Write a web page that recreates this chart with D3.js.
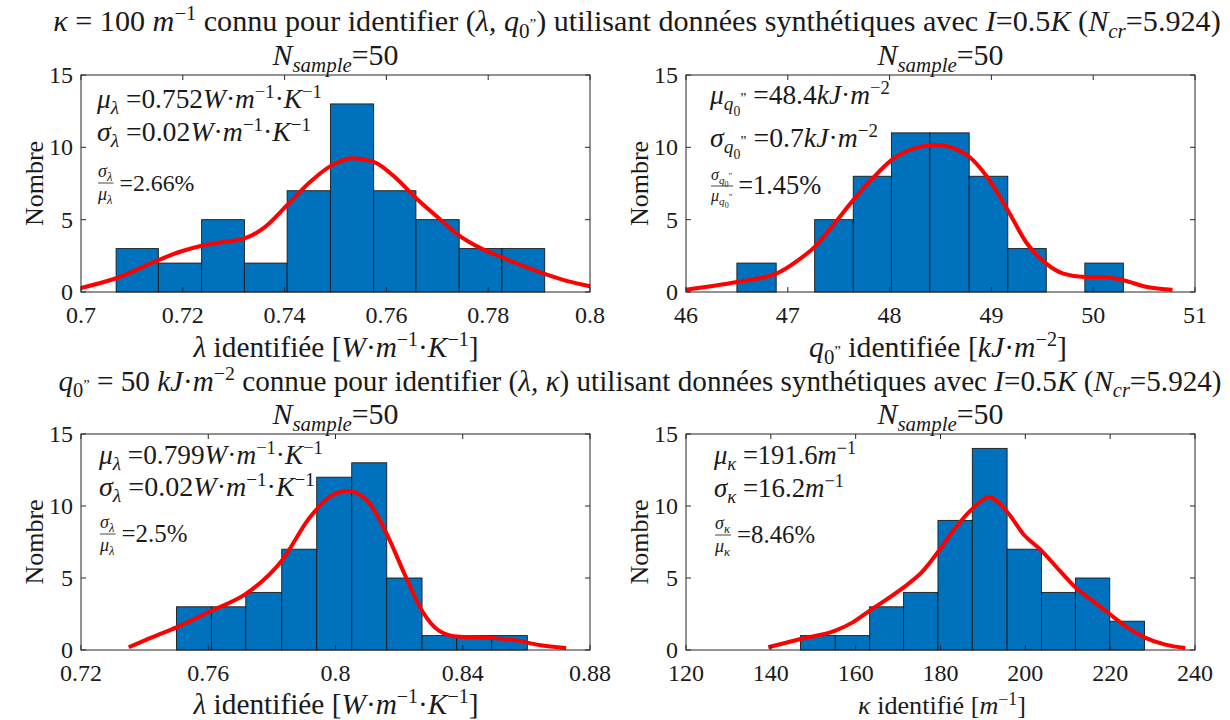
<!DOCTYPE html>
<html><head><meta charset="utf-8">
<script src="https://cdn.jsdelivr.net/npm/d3@7"></script>
<style>body{margin:0;background:#fff}svg text{font-family:"Liberation Serif","DejaVu Serif",serif;fill:#1a1a1a}</style>
</head><body><svg id="c" width="1230" height="720" font-family="Liberation Serif, DejaVu Serif, serif"></svg>
<script>
// ---------- DATA ----------
const yTicks = [0, 5, 10, 15];

const p1Edges  = [0.7069,0.7152,0.7237,0.7321,0.7405,0.7490,0.7575,0.7658,0.7743,0.7827,0.7911];
const p1Counts = [3,2,5,2,7,13,7,5,3,3];
const p1CurveX = [0.700,0.7069,0.7152,0.7196,0.7237,0.728,0.7321,0.7358,0.7405,0.745,0.749,0.7534,0.7575,0.7618,0.7658,0.7703,0.7743,0.7787,0.7827,0.7872,0.7911,0.7956,0.800];
const p1CurveY = [0.28,0.95,2.2,2.8,3.2,3.45,3.7,4.4,6.0,7.6,8.7,9.25,9.0,7.9,6.5,5.1,3.9,3.0,2.4,1.75,1.25,0.75,0.4];
const p1Ticks  = [0.7,0.72,0.74,0.76,0.78,0.8];
const p1Labels = ["0.7","0.72","0.74","0.76","0.78","0.8"];

const p2Edges  = [46.5,46.886,47.264,47.643,48.018,48.396,48.782,49.161,49.539,49.918,50.296];
const p2Counts = [2,0,5,8,11,11,8,3,0,2];
const p2CurveX = [46.0,46.5,46.886,47.1,47.264,47.457,47.643,47.832,48.018,48.243,48.457,48.671,48.782,48.957,49.161,49.35,49.539,49.707,49.918,50.1,50.296,50.529,50.779];
const p2CurveY = [0.16,0.69,1.27,2.19,3.12,4.73,6.35,7.85,9.12,9.93,10.16,9.81,9.35,7.97,5.65,3.35,1.96,1.27,1.04,1.04,0.81,0.35,0.16];
const p2Ticks  = [46,47,48,49,50,51];
const p2Labels = ["46","47","48","49","50","51"];

const p3Edges  = [0.7500,0.7610,0.7718,0.7831,0.7941,0.8051,0.8161,0.8272,0.8381,0.8491,0.8603];
const p3Counts = [3,3,4,7,12,13,5,1,1,1];
const p3CurveX = [0.735,0.7423,0.750,0.761,0.7718,0.7831,0.7919,0.7986,0.8037,0.8099,0.8161,0.8217,0.8272,0.8325,0.8381,0.8491,0.8572,0.864,0.8725];
const p3CurveY = [0.19,0.88,1.57,2.73,3.89,6.2,9.2,10.7,11.05,10.4,8.06,5.28,2.73,1.34,0.93,0.83,0.65,0.35,0.14];
const p3Ticks  = [0.72,0.76,0.8,0.84,0.88];
const p3Labels = ["0.72","0.76","0.8","0.84","0.88"];

const p4Edges  = [147.0,155.2,163.3,171.3,179.4,187.5,195.7,203.8,211.8,219.9,228.1];
const p4Counts = [1,1,3,4,9,14,7,4,5,2];
const p4CurveX = [139.4,147,155.2,159.3,163.3,171.3,175.6,179.4,183.3,187.5,191.4,195.7,199.5,203.8,208.1,211.8,215.8,219.9,224,228.1,233,237.7];
const p4CurveY = [0.19,0.76,1.34,1.92,2.73,4.35,5.4,6.8,8.4,9.8,10.6,9.6,8.06,6.9,5.51,4.35,3.43,2.5,1.57,0.88,0.37,0.14];
const p4Ticks  = [120,140,160,180,200,220,240];
const p4Labels = ["120","140","160","180","200","220","240"];

// ---------- HELPERS ----------
const svg = d3.select("#c");
const FS = 24;
const FONT = "Liberation Serif, DejaVu Serif, serif";

function richRaw(g, x, y, parts, size, anchor) {
  const t = g.append("text").attr("x", x).attr("y", y).attr("font-family", FONT)
    .attr("font-size", size).attr("text-anchor", anchor || "start");
  let cur = 0;
  parts.forEach(([s, st]) => {
    st = st || "";
    let shift = 0, fs = size;
    if (st.includes("b")) { shift = size * 0.22; fs = size * 0.7; }
    if (st.includes("p")) { shift = -size * 0.36; fs = size * 0.68; }
    if (st.includes("B")) { shift = size * 0.42; fs = size * 0.5; }
    if (st.includes("P")) { shift = -size * 0.05; fs = size * 0.5; }
    const ts = t.append("tspan").text(s).attr("dy", shift - cur).attr("font-size", fs);
    if (st.includes("i")) ts.attr("font-style", "italic");
    cur = shift;
  });
  return t;
}
// render, optionally scaling the font so the text spans targetW pixels
function rich(g, x, y, parts, size, anchor, targetW) {
  let t = richRaw(g, x, y, parts, size, anchor);
  if (targetW) {
    const w = t.node().getComputedTextLength();
    if (w > 0) {
      t.remove();
      t = richRaw(g, x, y, parts, size * targetW / w, anchor);
    }
  }
  return t;
}

function frac(g, x, yAxis, num, den, size) {
  const n = richRaw(g, x, yAxis - 6, num, size);
  const d = richRaw(g, x, yAxis + size * 0.95, den, size);
  const w = Math.max(n.node().getComputedTextLength(), d.node().getComputedTextLength());
  g.append("line").attr("x1", x).attr("x2", x + w + 1).attr("y1", yAxis).attr("y2", yAxis)
    .attr("stroke", "#1a1a1a").attr("stroke-width", 0.8);
  return x + w + 1;
}

function panel(box, xDom, edges, counts, cx, cy, ticks, labels) {
  const x = d3.scaleLinear().domain(xDom).range([box.x0, box.x1]);
  const y = d3.scaleLinear().domain([0, 15]).range([box.y1, box.y0]);
  const g = svg.append("g");
  const bins = counts.map((c, i) => ({ a: edges[i], b: edges[i + 1], c }));
  g.selectAll("rect").data(bins.filter(d => d.c > 0)).join("rect")
    .attr("x", d => x(d.a)).attr("width", d => x(d.b) - x(d.a))
    .attr("y", d => y(d.c)).attr("height", d => y(0) - y(d.c))
    .attr("fill", "#0072BD").attr("stroke", "#1a1a1a").attr("stroke-width", 0.9);
  const pts = cx.map((v, i) => [v, cy[i]]);
  g.append("path").datum(pts)
    .attr("d", d3.line().x(d => x(d[0])).y(d => y(d[1])).curve(d3.curveMonotoneX))
    .attr("fill", "none").attr("stroke", "#ff0000").attr("stroke-width", 4)
    .attr("stroke-linejoin", "round");
  const tl = 5;
  const ax = g.append("g").attr("stroke", "#262626").attr("stroke-width", 1);
  ax.append("rect").attr("x", box.x0).attr("y", box.y0).attr("width", box.x1 - box.x0)
    .attr("height", box.y1 - box.y0).attr("fill", "none");
  ticks.forEach(t => {
    ax.append("line").attr("x1", x(t)).attr("x2", x(t)).attr("y1", box.y1).attr("y2", box.y1 - tl);
    ax.append("line").attr("x1", x(t)).attr("x2", x(t)).attr("y1", box.y0).attr("y2", box.y0 + tl);
  });
  yTicks.forEach(t => {
    ax.append("line").attr("x1", box.x0).attr("x2", box.x0 + tl).attr("y1", y(t)).attr("y2", y(t));
    ax.append("line").attr("x1", box.x1).attr("x2", box.x1 - tl).attr("y1", y(t)).attr("y2", y(t));
  });
  ticks.forEach((t, i) => {
    g.append("text").attr("x", x(t)).attr("y", box.y1 + 31).attr("text-anchor", "middle")
      .attr("font-family", FONT).attr("font-size", FS).text(labels[i]);
  });
  yTicks.forEach(t => {
    g.append("text").attr("x", box.x0 - 8).attr("y", y(t) + 8).attr("text-anchor", "end")
      .attr("font-family", FONT).attr("font-size", FS).text(String(t));
  });
  g.append("text").attr("transform", `translate(${box.x0 - 38},${(box.y0 + box.y1) / 2}) rotate(-90)`)
    .attr("text-anchor", "middle").attr("font-family", FONT).attr("font-size", 26).text("Nombre");
  rich(g, (box.x0 + box.x1) / 2, box.y0 - 10, [["N", "i"], ["sample", "ib"], ["=50", ""]], 24, "middle", 126);
  return g;
}

// ---------- LAYOUT ----------
const B1 = { x0: 81, x1: 590, y0: 75, y1: 292 };
const B2 = { x0: 686, x1: 1195, y0: 75, y1: 292 };
const B3 = { x0: 81, x1: 590, y0: 434, y1: 650 };
const B4 = { x0: 686, x1: 1195, y0: 434, y1: 650 };

// Titles
rich(svg, 637, 31, [["κ", "i"], [" = 100 ", ""], ["m", "i"], ["−1", "p"], [" connu pour identifier (", ""], ["λ, q", "i"], ["0", "b"], ["\u201D", "P"], [") utilisant données synthétiques avec ", ""], ["I", "i"], ["=0.5", ""], ["K", "i"], [" (", ""], ["N", "i"], ["cr", "ib"], ["=5.924)", ""]], 23, "middle", 1168);
rich(svg, 640, 391, [["q", "i"], ["0", "b"], ["\u201D", "P"], [" = 50 ", ""], ["kJ", "i"], ["·", ""], ["m", "i"], ["−2", "p"], [" connue pour identifier (", ""], ["λ, κ", "i"], [") utilisant données synthétiques avec ", ""], ["I", "i"], ["=0.5", ""], ["K", "i"], [" (", ""], ["N", "i"], ["cr", "ib"], ["=5.924)", ""]], 23, "middle", 1164);

// Panels
const g1 = panel(B1, [0.7, 0.8], p1Edges, p1Counts, p1CurveX, p1CurveY, p1Ticks, p1Labels);
const g2 = panel(B2, [46, 51], p2Edges, p2Counts, p2CurveX, p2CurveY, p2Ticks, p2Labels);
const g3 = panel(B3, [0.72, 0.88], p3Edges, p3Counts, p3CurveX, p3CurveY, p3Ticks, p3Labels);
const g4 = panel(B4, [120, 240], p4Edges, p4Counts, p4CurveX, p4CurveY, p4Ticks, p4Labels);

// x labels
const xlab1 = [["λ", "i"], [" identifiée [", ""], ["W", "i"], ["·", ""], ["m", "i"], ["−1", "p"], ["·", ""], ["K", "i"], ["−1", "p"], ["]", ""]];
rich(svg, 336, 357, xlab1, 23, "middle", 285);
rich(svg, 938, 357, [["q", "i"], ["0", "b"], ["\u201D", "P"], [" identifiée [", ""], ["kJ", "i"], ["·", ""], ["m", "i"], ["−2", "p"], ["]", ""]], 23, "middle", 258);
rich(svg, 336, 714, xlab1, 23, "middle", 285);
rich(svg, 942, 714, [["κ", "i"], [" identifié [", ""], ["m", "i"], ["−1", "p"], ["]", ""]], 23, "middle", 168);

// Annotations
const AS = 20;
function unitWmK(v) { return [["=" + v, ""], ["W", "i"], ["·", ""], ["m", "i"], ["−1", "p"], ["·", ""], ["K", "i"], ["−1", "p"]]; }
// panel 1
rich(g1, 97, 108, [["μ", "i"], ["λ", "ib"], [" ", ""]].concat(unitWmK("0.752")), AS, "start", 225);
rich(g1, 97, 141, [["σ", "i"], ["λ", "ib"], [" ", ""]].concat(unitWmK("0.02")), AS, "start", 214);
let xe = frac(g1, 98, 183, [["σ", "i"], ["λ", "ib"]], [["μ", "i"], ["λ", "ib"]], 18);
rich(g1, xe + 6, 191, [["=2.66%", ""]], AS, "start", 75);
// panel 2
rich(g2, 710, 104, [["μ", "i"], ["q", "ib"], ["0", "B"], ["\u201D", "P"], [" =48.4", ""], ["kJ", "i"], ["·", ""], ["m", "i"], ["−2", "p"]], AS, "start", 180);
rich(g2, 710, 147, [["σ", "i"], ["q", "ib"], ["0", "B"], ["\u201D", "P"], [" =0.7", ""], ["kJ", "i"], ["·", ""], ["m", "i"], ["−2", "p"]], AS, "start", 168);
xe = frac(g2, 711, 186, [["σ", "i"], ["q", "ib"], ["0", "B"], ["\u201D", "P"]], [["μ", "i"], ["q", "ib"], ["0", "B"], ["\u201D", "P"]], 16);
rich(g2, xe + 5, 194, [["=1.45%", ""]], AS, "start", 83);
// panel 3
rich(g3, 99, 464, [["μ", "i"], ["λ", "ib"], [" ", ""]].concat(unitWmK("0.799")), AS, "start", 224);
rich(g3, 99, 496, [["σ", "i"], ["λ", "ib"], [" ", ""]].concat(unitWmK("0.02")), AS, "start", 216);
xe = frac(g3, 100, 534, [["σ", "i"], ["λ", "ib"]], [["μ", "i"], ["λ", "ib"]], 18);
rich(g3, xe + 6, 542, [["=2.5%", ""]], AS, "start", 66);
// panel 4
rich(g4, 714, 464, [["μ", "i"], ["κ", "ib"], [" =191.6", ""], ["m", "i"], ["−1", "p"]], AS, "start", 142);
rich(g4, 714, 497, [["σ", "i"], ["κ", "ib"], [" =16.2", ""], ["m", "i"], ["−1", "p"]], AS, "start", 130);
xe = frac(g4, 715, 535, [["σ", "i"], ["κ", "ib"]], [["μ", "i"], ["κ", "ib"]], 18);
rich(g4, xe + 6, 543, [["=8.46%", ""]], AS, "start", 78);
</script></body></html>
